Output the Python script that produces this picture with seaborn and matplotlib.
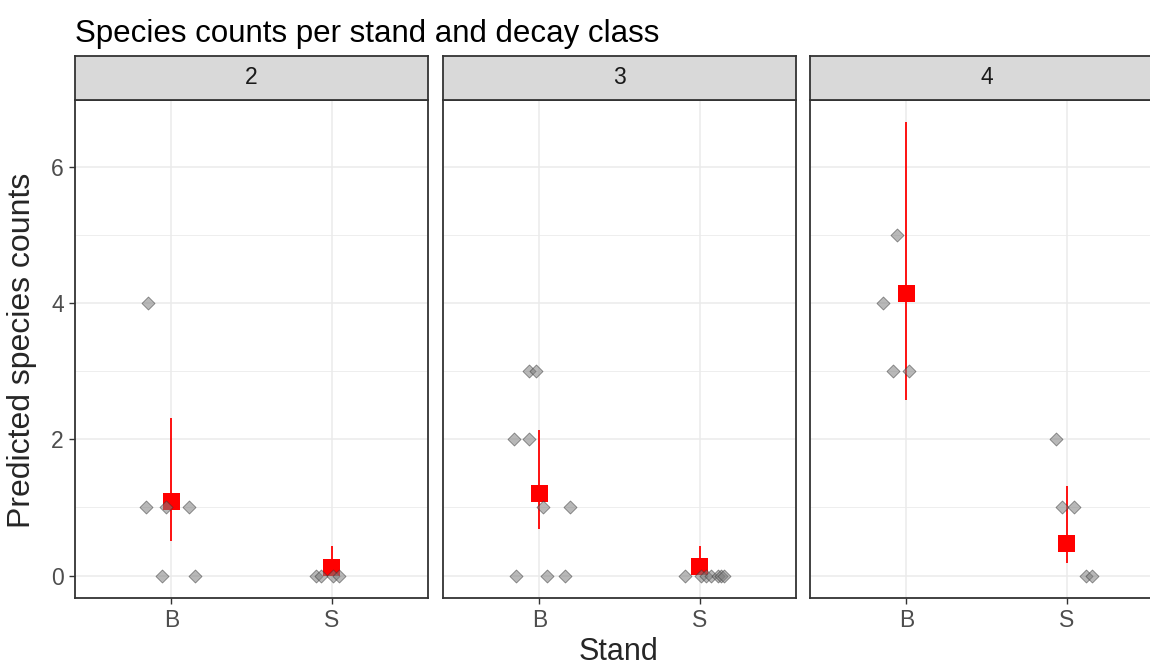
import numpy as np
import pandas as pd
import matplotlib
matplotlib.use("Agg")
import matplotlib.pyplot as plt
import seaborn as sns

#-----------------------------------------------------------
# data
#-----------------------------------------------------------

decay_classes = ["2", "3", "4"]
stands = ["B", "S"]

# observed counts per decay class; offsets are the horizontal jitter
obs_2_stand = ["B", "B", "B", "B", "B", "B", "S", "S", "S", "S"]
obs_2_count = [4, 1, 1, 1, 0, 0, 0, 0, 0, 0]
obs_2_offset = [-0.145, -0.156, -0.03, 0.11, -0.06, 0.15, -0.10, -0.065, 0.01, 0.045]

obs_3_stand = ["B"] * 9 + ["S"] * 7
obs_3_count = [3, 3, 2, 2, 1, 1, 0, 0, 0, 0, 0, 0, 0, 0, 0, 0]
obs_3_offset = [-0.067, -0.023, -0.158, -0.064, 0.023, 0.19, -0.146, 0.05, 0.158,
                -0.092, 0.01, 0.04, 0.07, 0.115, 0.135, 0.15]

obs_4_stand = ["B", "B", "B", "B", "S", "S", "S", "S", "S"]
obs_4_count = [5, 4, 3, 3, 2, 1, 1, 0, 0]
obs_4_offset = [-0.056, -0.146, -0.083, 0.02, -0.064, -0.03, 0.045, 0.12, 0.155]

# model predictions (mean and interval) per decay class, stands B and S
pred_mean = {"2": [1.09, 0.12], "3": [1.21, 0.13], "4": [4.14, 0.475]}
pred_low = {"2": [0.51, 0.03], "3": [0.68, 0.03], "4": [2.58, 0.18]}
pred_high = {"2": [2.31, 0.43], "3": [2.14, 0.43], "4": [6.65, 1.31]}

obs = pd.concat([
    pd.DataFrame({"decay": "2", "stand": obs_2_stand, "count": obs_2_count, "offset": obs_2_offset}),
    pd.DataFrame({"decay": "3", "stand": obs_3_stand, "count": obs_3_count, "offset": obs_3_offset}),
    pd.DataFrame({"decay": "4", "stand": obs_4_stand, "count": obs_4_count, "offset": obs_4_offset}),
], ignore_index=True)
obs["x"] = obs["stand"].map({s: i for i, s in enumerate(stands)}) + obs["offset"]

pred = pd.DataFrame({
    "decay": np.repeat(decay_classes, len(stands)),
    "stand": stands * len(decay_classes),
    "mean": sum((pred_mean[d] for d in decay_classes), []),
    "low": sum((pred_low[d] for d in decay_classes), []),
    "high": sum((pred_high[d] for d in decay_classes), []),
})
pred["x"] = pred["stand"].map({s: i for i, s in enumerate(stands)})

#-----------------------------------------------------------
# plot
#-----------------------------------------------------------

sns.set_theme(style="white")
plt.rcParams["font.family"] = ["Liberation Sans", "DejaVu Sans"]

W, H = 1150, 666
fig = plt.figure(figsize=(W / 100, H / 100), dpi=100)

panel_left = [75, 443, 810]
panel_w = 353
panel_top, panel_bottom = 100, 598
strip_top = 56

for i, d in enumerate(decay_classes):
    l = panel_left[i]
    ax = fig.add_axes([l / W, 1 - panel_bottom / H, panel_w / W, (panel_bottom - panel_top) / H])
    ax.set_facecolor("white")

    # grid like theme_bw
    for y in [1, 3, 5]:
        ax.axhline(y, color="#EBEBEB", lw=0.6, zorder=0)
    for y in [0, 2, 4, 6]:
        ax.axhline(y, color="#EBEBEB", lw=1.1, zorder=0)
    for x in [0, 1]:
        ax.axvline(x, color="#EBEBEB", lw=1.1, zorder=0)

    p = pred[pred["decay"] == d]
    ax.vlines(p["x"], p["low"], p["high"], color="red", lw=1.3, zorder=2)
    sns.scatterplot(data=p, x="x", y="mean", marker="s", s=150, color="red",
                    edgecolor="none", ax=ax, zorder=3, legend=False)

    o = obs[obs["decay"] == d]
    sns.scatterplot(data=o, x="x", y="count", marker="D", s=44, color="#7F7F7F",
                    edgecolor="#333333", linewidth=0.6, alpha=0.55, ax=ax, zorder=4,
                    legend=False)

    ax.set_xlim(-0.6, 1.6)
    ax.set_ylim(-0.33, 6.98)
    ax.set_xticks([0, 1])
    ax.set_xticklabels(stands)
    ax.set_yticks([0, 2, 4, 6])
    ax.tick_params(axis="both", length=4, width=1, color="#333333", labelsize=16.5,
                   labelcolor="#4D4D4D", pad=4, bottom=True, left=(i == 0))
    if i > 0:
        ax.set_yticklabels([])
    ax.set_xlabel("")
    ax.set_ylabel("")
    for sp in ax.spines.values():
        sp.set_color("#333333")
        sp.set_linewidth(1.3)

    # strip on top of each panel
    sax = fig.add_axes([l / W, 1 - panel_top / H, panel_w / W, (panel_top - strip_top) / H])
    sax.set_facecolor("#D9D9D9")
    sax.set_xticks([])
    sax.set_yticks([])
    for sp in sax.spines.values():
        sp.set_color("#333333")
        sp.set_linewidth(1.3)
    sax.text(0.5, 0.5, d, ha="center", va="center", fontsize=16.5, color="#1A1A1A",
             transform=sax.transAxes)

fig.text(75 / W, 1 - 42 / H, "Species counts per stand and decay class",
         fontsize=22.5, ha="left", va="baseline", color="black")
fig.text(618 / W, 1 - 660 / H, "Stand", fontsize=22, ha="center", va="baseline")
fig.text(37 / W, 1 - 350 / H, "Predicted species counts", fontsize=23,
         rotation=90, ha="right", va="center")

fig.savefig("out.png", dpi=100)
